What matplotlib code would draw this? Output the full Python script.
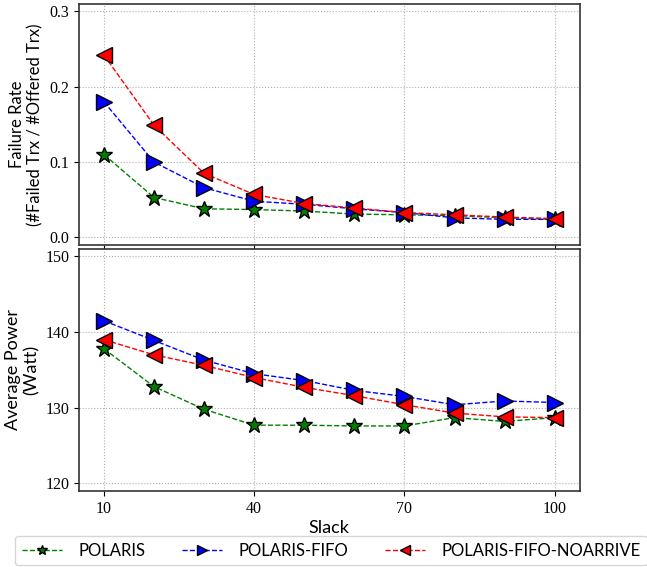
import matplotlib
matplotlib.use('Agg')
import matplotlib.pyplot as plt

# data
slack = [10, 20, 30, 40, 50, 60, 70, 80, 90, 100]
fail_polaris = [0.110, 0.053, 0.038, 0.037, 0.035, 0.031, 0.030, 0.029, 0.026, 0.024]
fail_fifo = [0.180, 0.100, 0.066, 0.048, 0.044, 0.038, 0.033, 0.026, 0.024, 0.024]
fail_noarrive = [0.242, 0.149, 0.085, 0.057, 0.045, 0.039, 0.033, 0.030, 0.027, 0.025]
power_polaris = [137.8, 132.8, 129.8, 127.7, 127.7, 127.6, 127.6, 128.7, 128.2, 128.7]
power_fifo = [141.5, 138.9, 136.3, 134.5, 133.6, 132.3, 131.5, 130.4, 130.9, 130.7]
power_noarrive = [139.0, 137.0, 135.6, 134.0, 132.7, 131.6, 130.4, 129.3, 128.8, 128.7]
labels = ['POLARIS', 'POLARIS-FIFO', 'POLARIS-FIFO-NOARRIVE']
xticks = [10, 40, 70, 100]

sans = ['Lato', 'DejaVu Sans']
serif = ['Liberation Serif', 'DejaVu Serif']

fig = plt.figure(figsize=(6.47, 5.67), dpi=100)
ax1 = fig.add_axes([0.122, 0.568, 0.774, 0.425])
ax2 = fig.add_axes([0.122, 0.134, 0.774, 0.427], sharex=ax1)

styles = [
    dict(color='green', marker='*', markersize=12),
    dict(color='blue', marker='>', markersize=12),
    dict(color='red', marker='<', markersize=12),
]

for ax, series in [(ax1, [fail_polaris, fail_fifo, fail_noarrive]),
                   (ax2, [power_polaris, power_fifo, power_noarrive])]:
    for ys, st, lab in zip(series, styles, labels):
        ax.plot(slack, ys, linestyle='--', linewidth=1, color=st['color'],
                marker=st['marker'], markersize=st['markersize'],
                markerfacecolor=st['color'], markeredgecolor='black',
                markeredgewidth=1, label=lab)
    ax.grid(True, linestyle=':', color='#b0b0b0', linewidth=0.8)
    for sp in ax.spines.values():
        sp.set_linewidth(1.2)
        sp.set_color('#333333')

ax1.set_ylim(-0.01, 0.31)
ax1.set_yticks([0.0, 0.1, 0.2, 0.3])
ax1.set_yticklabels(['0.0', '0.1', '0.2', '0.3'], family=serif, fontsize=11.5)
ax1.tick_params(axis='x', labelbottom=False)
ax1.set_ylabel('Failure Rate\n(#Failed Trx / #Offered Trx)', family=sans, fontsize=12)

ax2.set_ylim(119, 151)
ax2.set_yticks([120, 130, 140, 150])
ax2.set_yticklabels(['120', '130', '140', '150'], family=serif, fontsize=11.5)
ax2.set_xticks(xticks)
ax2.set_xticklabels([str(v) for v in xticks], family=serif, fontsize=11.5)
ax2.set_xlim(5, 105)
ax2.set_ylabel('Average Power\n(Watt)', family=sans, fontsize=13)
ax2.set_xlabel('Slack', family=sans, fontsize=13, labelpad=2)

handles, labs = ax1.get_legend_handles_labels()
leg = fig.legend(handles, labs, loc='lower center', ncol=3, bbox_to_anchor=(0.512, -0.012),
                 prop={'family': sans, 'size': 12}, columnspacing=2.2, handlelength=2.4,
                 handletextpad=1.0, fancybox=True, markerscale=0.65)
leg.get_frame().set_edgecolor('#cccccc')

fig.savefig('out.png', dpi=100)
